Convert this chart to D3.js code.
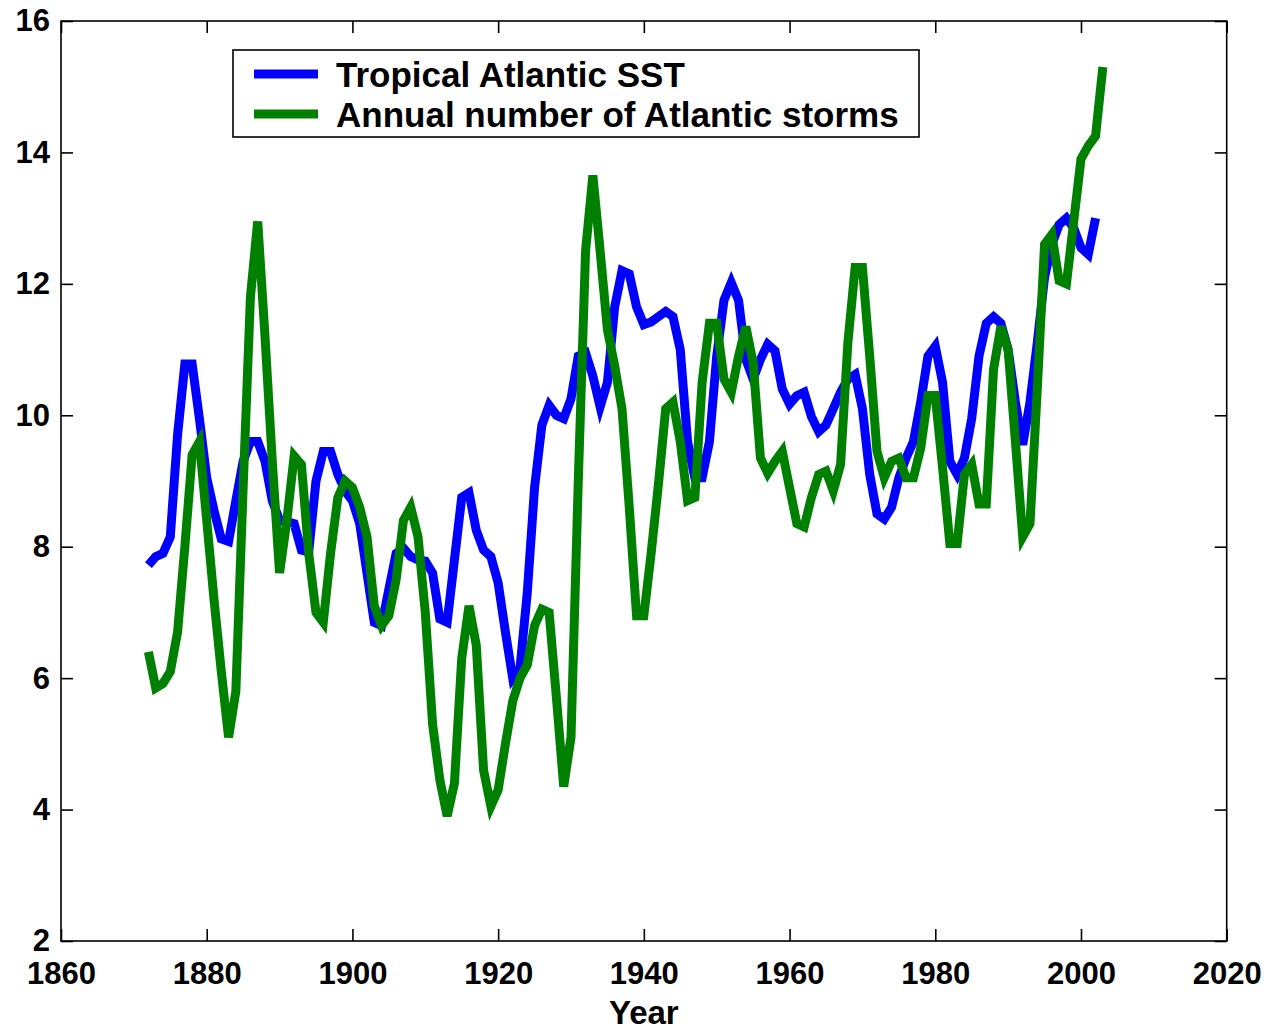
<!DOCTYPE html>
<html>
<head>
<meta charset="utf-8">
<script src="https://cdn.jsdelivr.net/npm/d3@7"></script>
<style>
  body { margin: 0; background: #fff; }
  text { font-family: "Liberation Sans", Arial, sans-serif; font-weight: bold; fill: #000; }
</style>
</head>
<body>
<div id="chart"></div>
<script>
var w = 1272;
var h = 1032;

// annual values
var firstYear = 1872;
var sst = [7.72, 7.85, 7.9, 8.15, 9.7, 10.78, 10.78, 9.95, 9.05, 8.55,
  8.12, 8.08, 8.7, 9.3, 9.6, 9.6, 9.3, 8.7, 8.4, 8.38,
  8.35, 7.95, 7.92, 9.0, 9.45, 9.45, 9.1, 8.85, 8.7, 8.35,
  7.6, 6.85, 6.8, 7.35, 7.9, 7.98, 7.85, 7.8, 7.78, 7.6,
  6.9, 6.85, 7.8, 8.75, 8.82, 8.25, 7.95, 7.85, 7.45, 6.7,
  6.0, 6.15, 7.3, 8.9, 9.85, 10.15, 10.0, 9.95, 10.25, 10.9,
  10.95, 10.6, 10.13, 10.5, 11.65, 12.2, 12.15, 11.65, 11.38, 11.42,
  11.5, 11.58, 11.5, 11.0, 9.6, 9.05, 9.05, 9.6, 10.9, 11.75,
  12.02, 11.75, 10.85, 10.55, 10.85, 11.08, 10.98, 10.4, 10.17, 10.3,
  10.35, 9.98, 9.75, 9.85, 10.1, 10.35, 10.55, 10.62, 10.1, 9.1,
  8.5, 8.42, 8.6, 9.05, 9.35, 9.6, 10.2, 10.9, 11.05, 10.5,
  9.3, 9.1, 9.35, 9.95, 10.9, 11.4, 11.5, 11.4, 11.0, 10.2,
  9.55, 10.2, 11.1, 12.1, 12.6, 12.9, 13.0, 12.85, 12.55, 12.45,
  13.0];
var storms = [6.4, 5.85, 5.92, 6.1, 6.7, 8.0, 9.4, 9.6, 8.4, 7.2,
  6.1, 5.1, 5.8, 8.9, 11.8, 12.95, 11.2, 9.3, 7.6, 8.4,
  9.38, 9.25, 7.9, 7.0, 6.85, 7.9, 8.75, 9.0, 8.9, 8.6,
  8.15, 7.1, 6.8, 6.95, 7.5, 8.4, 8.6, 8.15, 7.0, 5.3,
  4.45, 3.9, 4.4, 6.3, 7.1, 6.5, 4.6, 4.05, 4.3, 5.0,
  5.65, 6.0, 6.2, 6.8, 7.05, 7.0, 5.7, 4.35, 5.1, 9.0,
  12.5, 13.65, 12.5, 11.3, 10.75, 10.1, 8.6, 6.95, 6.95, 7.9,
  8.95, 10.1, 10.2, 9.6, 8.7, 8.75, 10.5, 11.4, 11.4, 10.55,
  10.35, 10.9, 11.35, 10.8, 9.35, 9.12, 9.3, 9.45, 8.9, 8.35,
  8.3, 8.75, 9.1, 9.15, 8.85, 9.25, 11.1, 12.25, 12.25, 10.9,
  9.45, 9.05, 9.3, 9.35, 9.05, 9.05, 9.5, 10.3, 10.3, 9.2,
  8.05, 8.05, 9.1, 9.25, 8.65, 8.65, 10.7, 11.35, 11.0, 9.6,
  8.15, 8.35, 10.4, 12.6, 12.75, 12.05, 12.0, 12.95, 13.9, 14.1,
  14.25, 15.3];

var xTicks = [1860, 1880, 1900, 1920, 1940, 1960, 1980, 2000, 2020];
var yTicks = [2, 4, 6, 8, 10, 12, 14, 16];
var seriesNames = ["Tropical Atlantic SST", "Annual number of Atlantic storms"];
var seriesColors = ["#0000ff", "#008000"];
var xAxisLabel = "Year";

var svg = d3.select("#chart")
    .append("svg")
    .attr("width", w)
    .attr("height", h);

var margin = {top: 21, right: 45.3, bottom: 91, left: 61},
    width = w - margin.left - margin.right,
    height = h - margin.top - margin.bottom;

var x = d3.scaleLinear()
    .domain([1860, 2020])
    .range([margin.left, margin.left + width]);

var y = d3.scaleLinear()
    .domain([2, 16])
    .range([margin.top + height, margin.top]);

// the plot box and inward ticks on all four sides
svg.append("rect")
    .attr("x", margin.left)
    .attr("y", margin.top)
    .attr("width", width)
    .attr("height", height)
    .attr("fill", "#fff")
    .attr("stroke", "#000")
    .attr("stroke-width", 1.6);

function styleAxis(g) {
  g.select(".domain").remove();
  g.selectAll(".tick line").attr("stroke", "#000").attr("stroke-width", 1.6);
  g.selectAll(".tick text").attr("font-size", "31px");
}

svg.append("g")
    .attr("transform", "translate(0," + (margin.top + height) + ")")
    .call(d3.axisBottom(x).tickValues(xTicks).tickFormat(d3.format("d"))
      .tickSizeInner(-12).tickSizeOuter(0).tickPadding(21))
    .call(styleAxis);

svg.append("g")
    .attr("transform", "translate(0," + margin.top + ")")
    .call(d3.axisTop(x).tickValues(xTicks).tickFormat("")
      .tickSizeInner(-12).tickSizeOuter(0))
    .call(styleAxis);

svg.append("g")
    .attr("transform", "translate(" + margin.left + ",0)")
    .call(d3.axisLeft(y).tickValues(yTicks).tickFormat(d3.format("d"))
      .tickSizeInner(-12).tickSizeOuter(0).tickPadding(11))
    .call(styleAxis);

svg.append("g")
    .attr("transform", "translate(" + (margin.left + width) + ",0)")
    .call(d3.axisRight(y).tickValues(yTicks).tickFormat("")
      .tickSizeInner(-12).tickSizeOuter(0))
    .call(styleAxis);

svg.append("text")
    .attr("x", margin.left + width / 2)
    .attr("y", 1024)
    .attr("text-anchor", "middle")
    .attr("font-size", "33px")
    .text(xAxisLabel);

// the two series
var line = d3.line()
    .x(function(d, i) { return x(firstYear + i); })
    .y(function(d) { return y(d); });

[sst, storms].forEach(function(values, k) {
  svg.append("path")
      .datum(values)
      .attr("fill", "none")
      .attr("stroke", seriesColors[k])
      .attr("stroke-width", 9)
      .attr("stroke-linejoin", "miter")
      .attr("stroke-linecap", "butt")
      .attr("d", line);
});

// legend
var legend = svg.append("g");
legend.append("rect")
    .attr("x", 233)
    .attr("y", 50)
    .attr("width", 686)
    .attr("height", 87)
    .attr("fill", "#fff")
    .attr("stroke", "#000")
    .attr("stroke-width", 1.6);

seriesNames.forEach(function(name, k) {
  var ly = 74 + k * 40;
  legend.append("line")
      .attr("x1", 254).attr("x2", 318)
      .attr("y1", ly).attr("y2", ly)
      .attr("stroke", seriesColors[k])
      .attr("stroke-width", 9);
  legend.append("text")
      .attr("x", 336)
      .attr("y", ly)
      .attr("dy", "0.36em")
      .attr("font-size", "35px")
      .text(name);
});
</script>
</body>
</html>
